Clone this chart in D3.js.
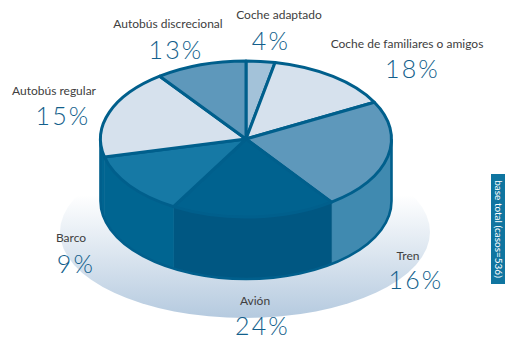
<!DOCTYPE html>
<html>
<head>
<meta charset="utf-8">
<script src="https://cdn.jsdelivr.net/npm/d3@7"></script>
<style>
  html, body { margin: 0; padding: 0; background: #fff; overflow: hidden; }
  text { font-family: Lato, "Open Sans", sans-serif; }
</style>
</head>
<body>
<script>
const categories = ['Coche adaptado', 'Coche de familiares o amigos', 'Tren', 'Avión', 'Barco', 'Autobús regular', 'Autobús discrecional'];
const percents = [4, 18, 16, 24, 9, 15, 13];
// the slices in the picture are not drawn to the printed percents, so this is their size as drawn
const drawnShare = [3.2, 14, 22.8, 18.3, 13, 18.6, 10.1];
const baseNote = 'base total (casos=536)';

const width = 505, height = 338;
const cx = 246, cy = 139, rx = 145.5, ry = 78, depth = 62;

const topColors = ['#a3c2d9', '#d6e1ed', '#5e98bb', '#00628f', '#1679a5', '#d6e1ed', '#5e98bb'];
const wallColors = ['none', 'none', '#408ab0', '#005782', '#006591', '#006591', 'none'];
const strokeColor = '#005f8c';

// label anchors, same order as categories: [name x, name baseline, percent x, percent baseline]
const labelPos = [
  [279, 19, 271, 50],
  [407, 48, 412.5, 78],
  [408, 260, 416, 289],
  [255, 305, 262.5, 335],
  [71, 242, 76, 273],
  [54, 95, 63, 125],
  [168, 28, 176, 59]
];

const svg = d3.select('body').append('svg')
  .attr('width', width)
  .attr('height', height);

const grad = svg.append('defs').append('linearGradient')
  .attr('id', 'baseGrad')
  .attr('gradientUnits', 'userSpaceOnUse')
  .attr('x1', 0).attr('x2', 0)
  .attr('y1', 195).attr('y2', 318);
grad.append('stop').attr('offset', 0).attr('stop-color', '#ffffff');
grad.append('stop').attr('offset', 1).attr('stop-color', '#b5cadf');

svg.append('ellipse')
  .attr('cx', 245).attr('cy', 232)
  .attr('rx', 185).attr('ry', 86)
  .attr('fill', 'url(#baseGrad)');

const pie = d3.pie().sort(null).value(d => d);
const slices = pie(drawnShare);

const px = a => cx + rx * Math.sin(a);
const py = a => cy - ry * Math.cos(a);

// front wall, only the part of each slice between 90 and 270 degrees shows
const wallPath = (a0, a1) =>
  `M${px(a0)},${py(a0)}` +
  `A${rx},${ry} 0 0 1 ${px(a1)},${py(a1)}` +
  `L${px(a1)},${py(a1) + depth}` +
  `A${rx},${ry} 0 0 0 ${px(a0)},${py(a0) + depth}Z`;

svg.append('g')
  .selectAll('path')
  .data(slices)
  .enter()
  .append('path')
  .filter(d => d.endAngle > Math.PI / 2 && d.startAngle < 3 * Math.PI / 2)
  .attr('fill', d => wallColors[d.index])
  .attr('stroke', d => wallColors[d.index])
  .attr('stroke-width', 0.6)
  .attr('d', d => wallPath(Math.max(d.startAngle, Math.PI / 2), Math.min(d.endAngle, 3 * Math.PI / 2)));

// outline of the drum
svg.append('path')
  .attr('fill', 'none')
  .attr('stroke', strokeColor)
  .attr('stroke-width', 2.6)
  .attr('d', `M${cx - rx},${cy}L${cx - rx},${cy + depth}A${rx},${ry} 0 0 0 ${cx + rx},${cy + depth}L${cx + rx},${cy}`);

const arc = d3.arc().innerRadius(0).outerRadius(rx);

svg.append('g')
  .attr('transform', `translate(${cx},${cy}) scale(1,${ry / rx})`)
  .selectAll('path')
  .data(slices)
  .enter()
  .append('path')
  .attr('d', arc)
  .attr('fill', d => topColors[d.index])
  .attr('stroke', strokeColor)
  .attr('stroke-width', 3)
  .attr('stroke-linejoin', 'round')
  .attr('vector-effect', 'non-scaling-stroke');

const labels = svg.append('g');

labels.selectAll('text.name')
  .data(categories)
  .enter()
  .append('text')
  .attr('class', 'name')
  .attr('x', (d, i) => labelPos[i][0])
  .attr('y', (d, i) => labelPos[i][1])
  .attr('text-anchor', 'middle')
  .attr('fill', '#404040')
  .style('font-size', '12px')
  .text(d => d);

labels.selectAll('text.pct')
  .data(percents)
  .enter()
  .append('text')
  .attr('class', 'pct')
  .attr('x', (d, i) => labelPos[i][2])
  .attr('y', (d, i) => labelPos[i][3])
  .attr('text-anchor', 'middle')
  .attr('fill', '#135f8c')
  .style('font-size', '25px')
  .style('font-weight', 300)
  .style('letter-spacing', '2.2px')
  .text(d => d + '%');

svg.append('rect')
  .attr('x', 491).attr('y', 174)
  .attr('width', 14).attr('height', 110)
  .attr('fill', '#0f75a0');

svg.append('text')
  .attr('transform', 'translate(495,229) rotate(90)')
  .attr('text-anchor', 'middle')
  .attr('fill', '#ffffff')
  .style('font-size', '10px')
  .text(baseNote);
</script>
</body>
</html>
